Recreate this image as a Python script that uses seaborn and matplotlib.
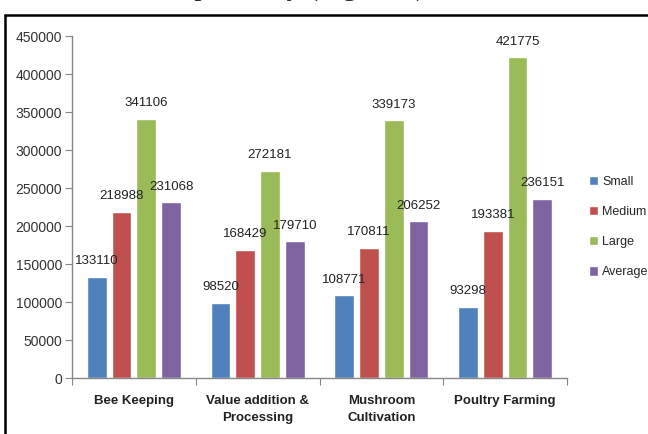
import pandas as pd
import matplotlib.pyplot as plt
import seaborn as sns
from matplotlib.lines import Line2D

activities = ["Bee Keeping", "Value addition &\nProcessing", "Mushroom\nCultivation", "Poultry Farming"]
sizes = ["Small", "Medium", "Large", "Average"]
small = [133110, 98520, 108771, 93298]
medium = [218988, 168429, 170811, 193381]
large = [341106, 272181, 339173, 421775]
average = [231068, 179710, 206252, 236151]
yticks = list(range(0, 450001, 50000))

colors = ["#4F81BD", "#C0504D", "#9BBB59", "#8064A2"]

df = pd.DataFrame({
    "activity": activities * 4,
    "size": [s for s in sizes for _ in activities],
    "value": small + medium + large + average,
})

sns.set_style("white")
plt.rcParams["font.family"] = ["Liberation Sans", "DejaVu Sans"]

fig = plt.figure(figsize=(6.48, 4.34), dpi=100)
ax = fig.add_axes([72 / 648, 1 - 378 / 434, 495 / 648, 342 / 434])

sns.barplot(data=df, x="activity", y="value", hue="size", order=activities,
            hue_order=sizes, palette=colors, width=0.8, gap=0.2,
            saturation=1, ax=ax)

for cont in ax.containers:
    ax.bar_label(cont, fmt="%d", padding=7, fontsize=9.5, color="#222222")

ax.set_ylim(0, 450000)
ax.set_xlim(-0.5, 3.5)
ax.set_yticks(yticks)
ax.set_yticklabels([str(t) for t in yticks], fontsize=10, color="#333333")
ax.tick_params(axis="y", direction="out", length=5, width=0.8, color="#868686",
               left=True, pad=2)

# category boundaries as major ticks, names on minor ticks
ax.set_xticks([-0.5, 0.5, 1.5, 2.5, 3.5])
ax.set_xticklabels([])
ax.set_xticks([0, 1, 2, 3], minor=True)
ax.set_xticklabels(activities, minor=True, fontsize=9.5, fontweight="bold",
                   family=["Liberation Sans Narrow", "Liberation Sans", "DejaVu Sans"],
                   linespacing=1.6, color="#222222")
ax.tick_params(axis="x", which="major", direction="out", length=5, width=0.8,
               color="#868686", bottom=True)
ax.tick_params(axis="x", which="minor", length=0, pad=12)

for side in ["top", "right"]:
    ax.spines[side].set_visible(False)
for side in ["left", "bottom"]:
    ax.spines[side].set_color("#868686")
    ax.spines[side].set_linewidth(1.0)

ax.set_xlabel("")
ax.set_ylabel("")

handles, labels = ax.get_legend_handles_labels()
ax.legend(handles, labels, loc="upper left", bbox_to_anchor=(589 / 648, 1 - 176 / 434),
          bbox_transform=fig.transFigure, frameon=False, fontsize=9,
          handlelength=0.75, handleheight=0.75, handletextpad=0.3,
          labelspacing=1.45, borderpad=0, borderaxespad=0)

# page frame and the clipped tail of a text line above the chart
fig.add_artist(Line2D([5 / 648, 1], [1 - 15 / 434, 1 - 15 / 434], color="black",
                      linewidth=1.8, transform=fig.transFigure))
fig.add_artist(Line2D([5 / 648, 5 / 648], [0, 1 - 15 / 434], color="black",
                      linewidth=1.8, transform=fig.transFigure))
fig.text(146 / 648, 1 + 5 / 434, ", respectively (Figure 4)", fontsize=21,
         family=["Liberation Serif", "DejaVu Serif"], va="baseline", ha="left")

plt.savefig("out.png", dpi=100)
